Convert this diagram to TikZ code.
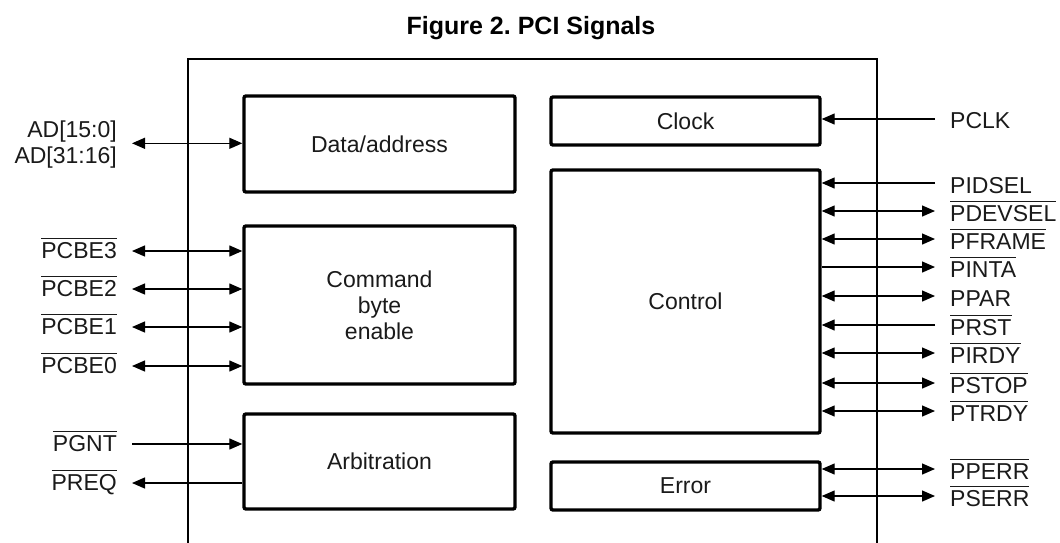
\documentclass[tikz,border=0pt]{standalone}
\usepackage{fontspec}
\setmainfont{Liberation Sans}
\usetikzlibrary{arrows.meta}
\frenchspacing
\newcommand\ovl[1]{\setbox0\hbox{#1}\rlap{\rule[\dimexpr\ht0+3pt\relax]{\wd0}{1.4pt}}\box0}
\definecolor{ink}{HTML}{1A1A1A}
\begin{document}
\begin{tikzpicture}[x=1pt,y=-1pt,
 blk/.style={draw=black,line width=3.4pt,rounded corners=2pt,inner sep=0pt,font=\fontsize{23}{26}\selectfont,text=ink,align=center},
 sig/.style={line width=1.3pt,-{Triangle[length=13pt,width=11pt]}},
 sigb/.style={line width=1.3pt,{Triangle[length=13pt,width=11pt]}-{Triangle[length=13pt,width=11pt]}},
 lbl/.style={font=\fontsize{23}{26}\selectfont,text=ink,inner sep=0pt},
]
\useasboundingbox (0,0) rectangle (1060,542);
\node[font=\bfseries\fontsize{25}{30}\selectfont,anchor=base,inner sep=0pt] (title) at (531,34) {Figure 2. PCI Signals};
\draw[line width=2.2pt] (188,545) -- (188,59) -- (877,59) -- (877,545);

\node[blk,minimum width=271pt,minimum height=96pt] (data) at (379.5,144) {Data/address};
\node[blk,minimum width=271pt,minimum height=158pt] (cmd) at (379.5,305) {Command\\byte\\enable};
\node[blk,minimum width=271pt,minimum height=95pt] (arb) at (379.5,461.5) {Arbitration};
\node[blk,minimum width=269pt,minimum height=48pt] (clock) at (685.5,121) {Clock};
\node[blk,minimum width=269pt,minimum height=263pt] (ctrl) at (685.5,301.5) {Control};
\node[blk,minimum width=269pt,minimum height=48pt] (err) at (685.5,486) {Error};

% left side
\coordinate (adE) at (132,143.3);
\node[lbl,anchor=base east] (ad1) at (117,137.5) {AD[15:0]};
\node[lbl,anchor=base east] (ad2) at (117,163.5) {AD[31:16]};
\draw[sigb] (adE) -- (adE -| data.west);

\foreach \n/\y/\t in {pcbeA/251/PCBE3, pcbeB/289/PCBE2, pcbeC/327/PCBE1, pcbeD/366/PCBE0}{
  \coordinate (\n E) at (132,\y);
  \node[lbl,anchor=base east] (\n T) at (117,\y+7) {\ovl{\t}};
  \draw[sigb] (\n E) -- (\n E -| cmd.west);
}
\coordinate (pgntE) at (132,444);
\node[lbl,anchor=base east] (pgntT) at (117,451) {\ovl{PGNT}};
\draw[sig] (pgntE) -- (pgntE -| arb.west);
\coordinate (preqE) at (132,483);
\node[lbl,anchor=base east] (preqT) at (117,490) {\ovl{PREQ}};
\draw[sig] (preqE -| arb.west) -- (preqE);

% right side
\coordinate (pclkE) at (935,119);
\node[lbl,anchor=base west] (pclkT) at (950,128.5) {PCLK};
\draw[sig] (pclkE) -- (pclkE -| clock.east);

\coordinate (pidselE) at (935,183);
\node[lbl,anchor=base west] (pidselT) at (950,193) {PIDSEL};
\draw[sig] (pidselE) -- (pidselE -| ctrl.east);

\coordinate (prstE) at (935,325);
\node[lbl,anchor=base west] (prstT) at (950,335) {\ovl{PRST}};
\draw[sig] (prstE) -- (prstE -| ctrl.east);

\coordinate (pintaE) at (935,267);
\node[lbl,anchor=base west] (pintaT) at (950,277) {\ovl{PINTA}};
\draw[sig] (pintaE -| ctrl.east) -- (pintaE);

\coordinate (pparE) at (935,296);
\node[lbl,anchor=base west] (pparT) at (950,306) {PPAR};
\draw[sigb] (pparE) -- (pparE -| ctrl.east);

\foreach \n/\y/\t in {pdevsel/211/PDEVSEL, pframe/239/PFRAME, pirdy/353/PIRDY, pstop/383/PSTOP, ptrdy/411/PTRDY}{
  \coordinate (\n E) at (935,\y);
  \node[lbl,anchor=base west] (\n T) at (950,\y+10) {\ovl{\t}};
  \draw[sigb] (\n E) -- (\n E -| ctrl.east);
}
\foreach \n/\y/\t in {pperr/469/PPERR, pserr/496/PSERR}{
  \coordinate (\n E) at (935,\y);
  \node[lbl,anchor=base west] (\n T) at (950,\y+10) {\ovl{\t}};
  \draw[sigb] (\n E) -- (\n E -| err.east);
}
\end{tikzpicture}
\end{document}
